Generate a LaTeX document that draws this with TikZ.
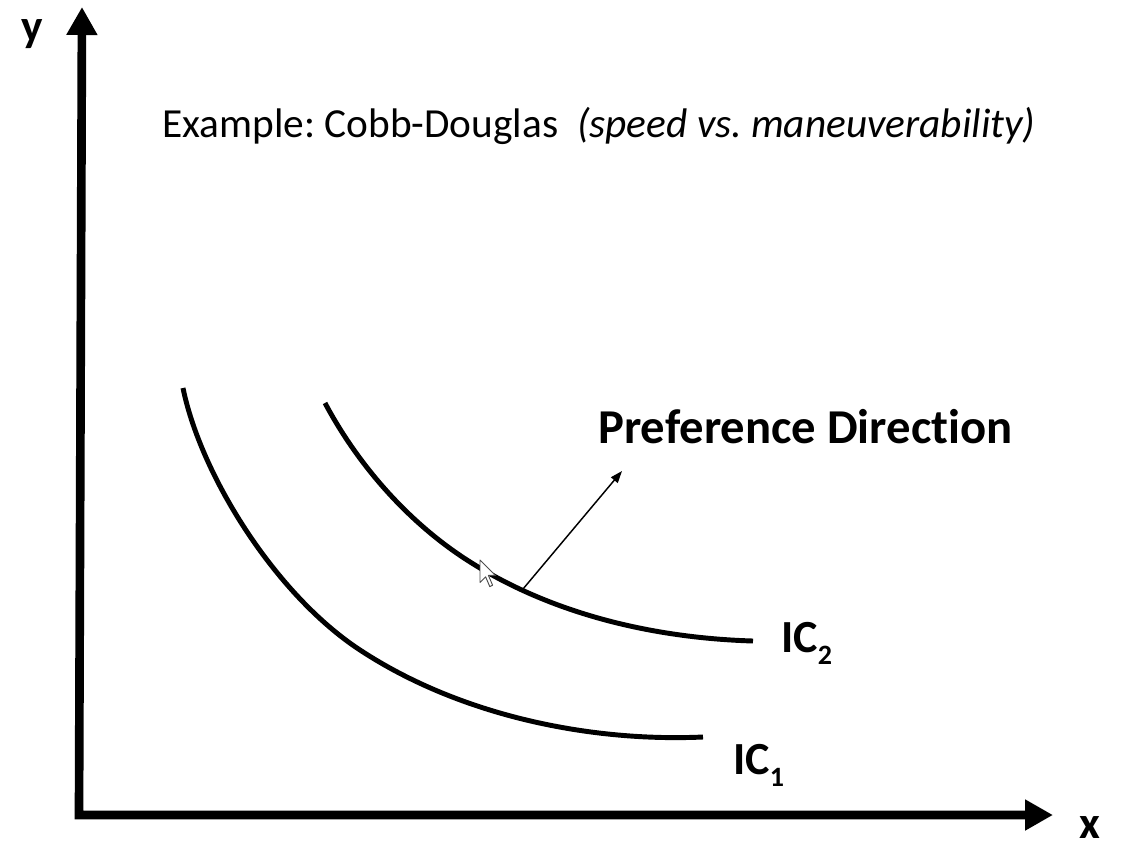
\documentclass[tikz,border=0pt]{standalone}
\usepackage{fontspec}
\setmainfont{Carlito}[Ligatures=NoCommon]
\usetikzlibrary{arrows.meta}
\frenchspacing
\begin{document}
\begin{tikzpicture}[x=0.75pt,y=-0.75pt,
  axis/.style={line width=6.5pt, line join=miter,
    {Triangle[length=21pt,width=22pt]}-{Triangle[length=21pt,width=22pt]}},
  curve/.style={line width=3.7pt},
  pref/.style={line width=1.1pt, -{Triangle[length=9pt,width=6.5pt]}},
  lbl/.style={inner sep=0pt, anchor=base west, font=\bfseries\fontsize{34.5}{40}\selectfont},
  axlbl/.style={inner sep=0pt, anchor=base, font=\bfseries\fontsize{34}{40}\selectfont},
  cursorshape/.style={fill=white, draw=black!70, line width=0.7pt, line join=round}
]
\useasboundingbox (0,0) rectangle (1122,851);

% axes
\coordinate (ytip) at (82,7);
\coordinate (origin) at (79,815);
\coordinate (xtip) at (1053,815);
\draw[axis] (ytip) -- (origin) -- (xtip);
\node[axlbl] (ylab) at (32,41) {y};
\node[axlbl] (xlab) at (1090,838) {x};

% title
\node[inner sep=0pt, anchor=base west, font=\fontsize{31}{36}\selectfont] (title) at (162,137)
  {Example: Cobb-Douglas\ \ \textit{(speed vs. maneuverability)}};

% indifference curves
\draw[curve] (183,388) .. controls (201,476) and (276,595) .. (360,650)
  .. controls (462,717) and (593,742) .. (703,737);
\draw[curve] (325,403) .. controls (358,465) and (408,522) .. (467,560)
  .. controls (551,614) and (653,638) .. (753,641);

\node[lbl] (ic2) at (781,652) {IC\raisebox{-9pt}{\fontsize{21}{21}\selectfont 2}};
\node[lbl] (ic1) at (733,774) {IC\raisebox{-9pt}{\fontsize{21}{21}\selectfont 1}};

% preference direction
\coordinate (ptail) at (523,589);
\coordinate (phead) at (622,471);
\draw[pref] (ptail) -- (phead);
\node[inner sep=0pt, anchor=base west, font=\bfseries\fontsize{36.5}{42}\selectfont] (preflab) at (598,443)
  {Preference Direction};

% mouse cursor
\draw[cursorshape, shift={(480,560)}]
  (0,0) -- (0,22.4) -- (5.6,16.8) -- (9.8,26.6) -- (12.6,25.2) -- (8.4,15.4) -- (15.4,15.4) -- cycle;
\end{tikzpicture}
\end{document}
